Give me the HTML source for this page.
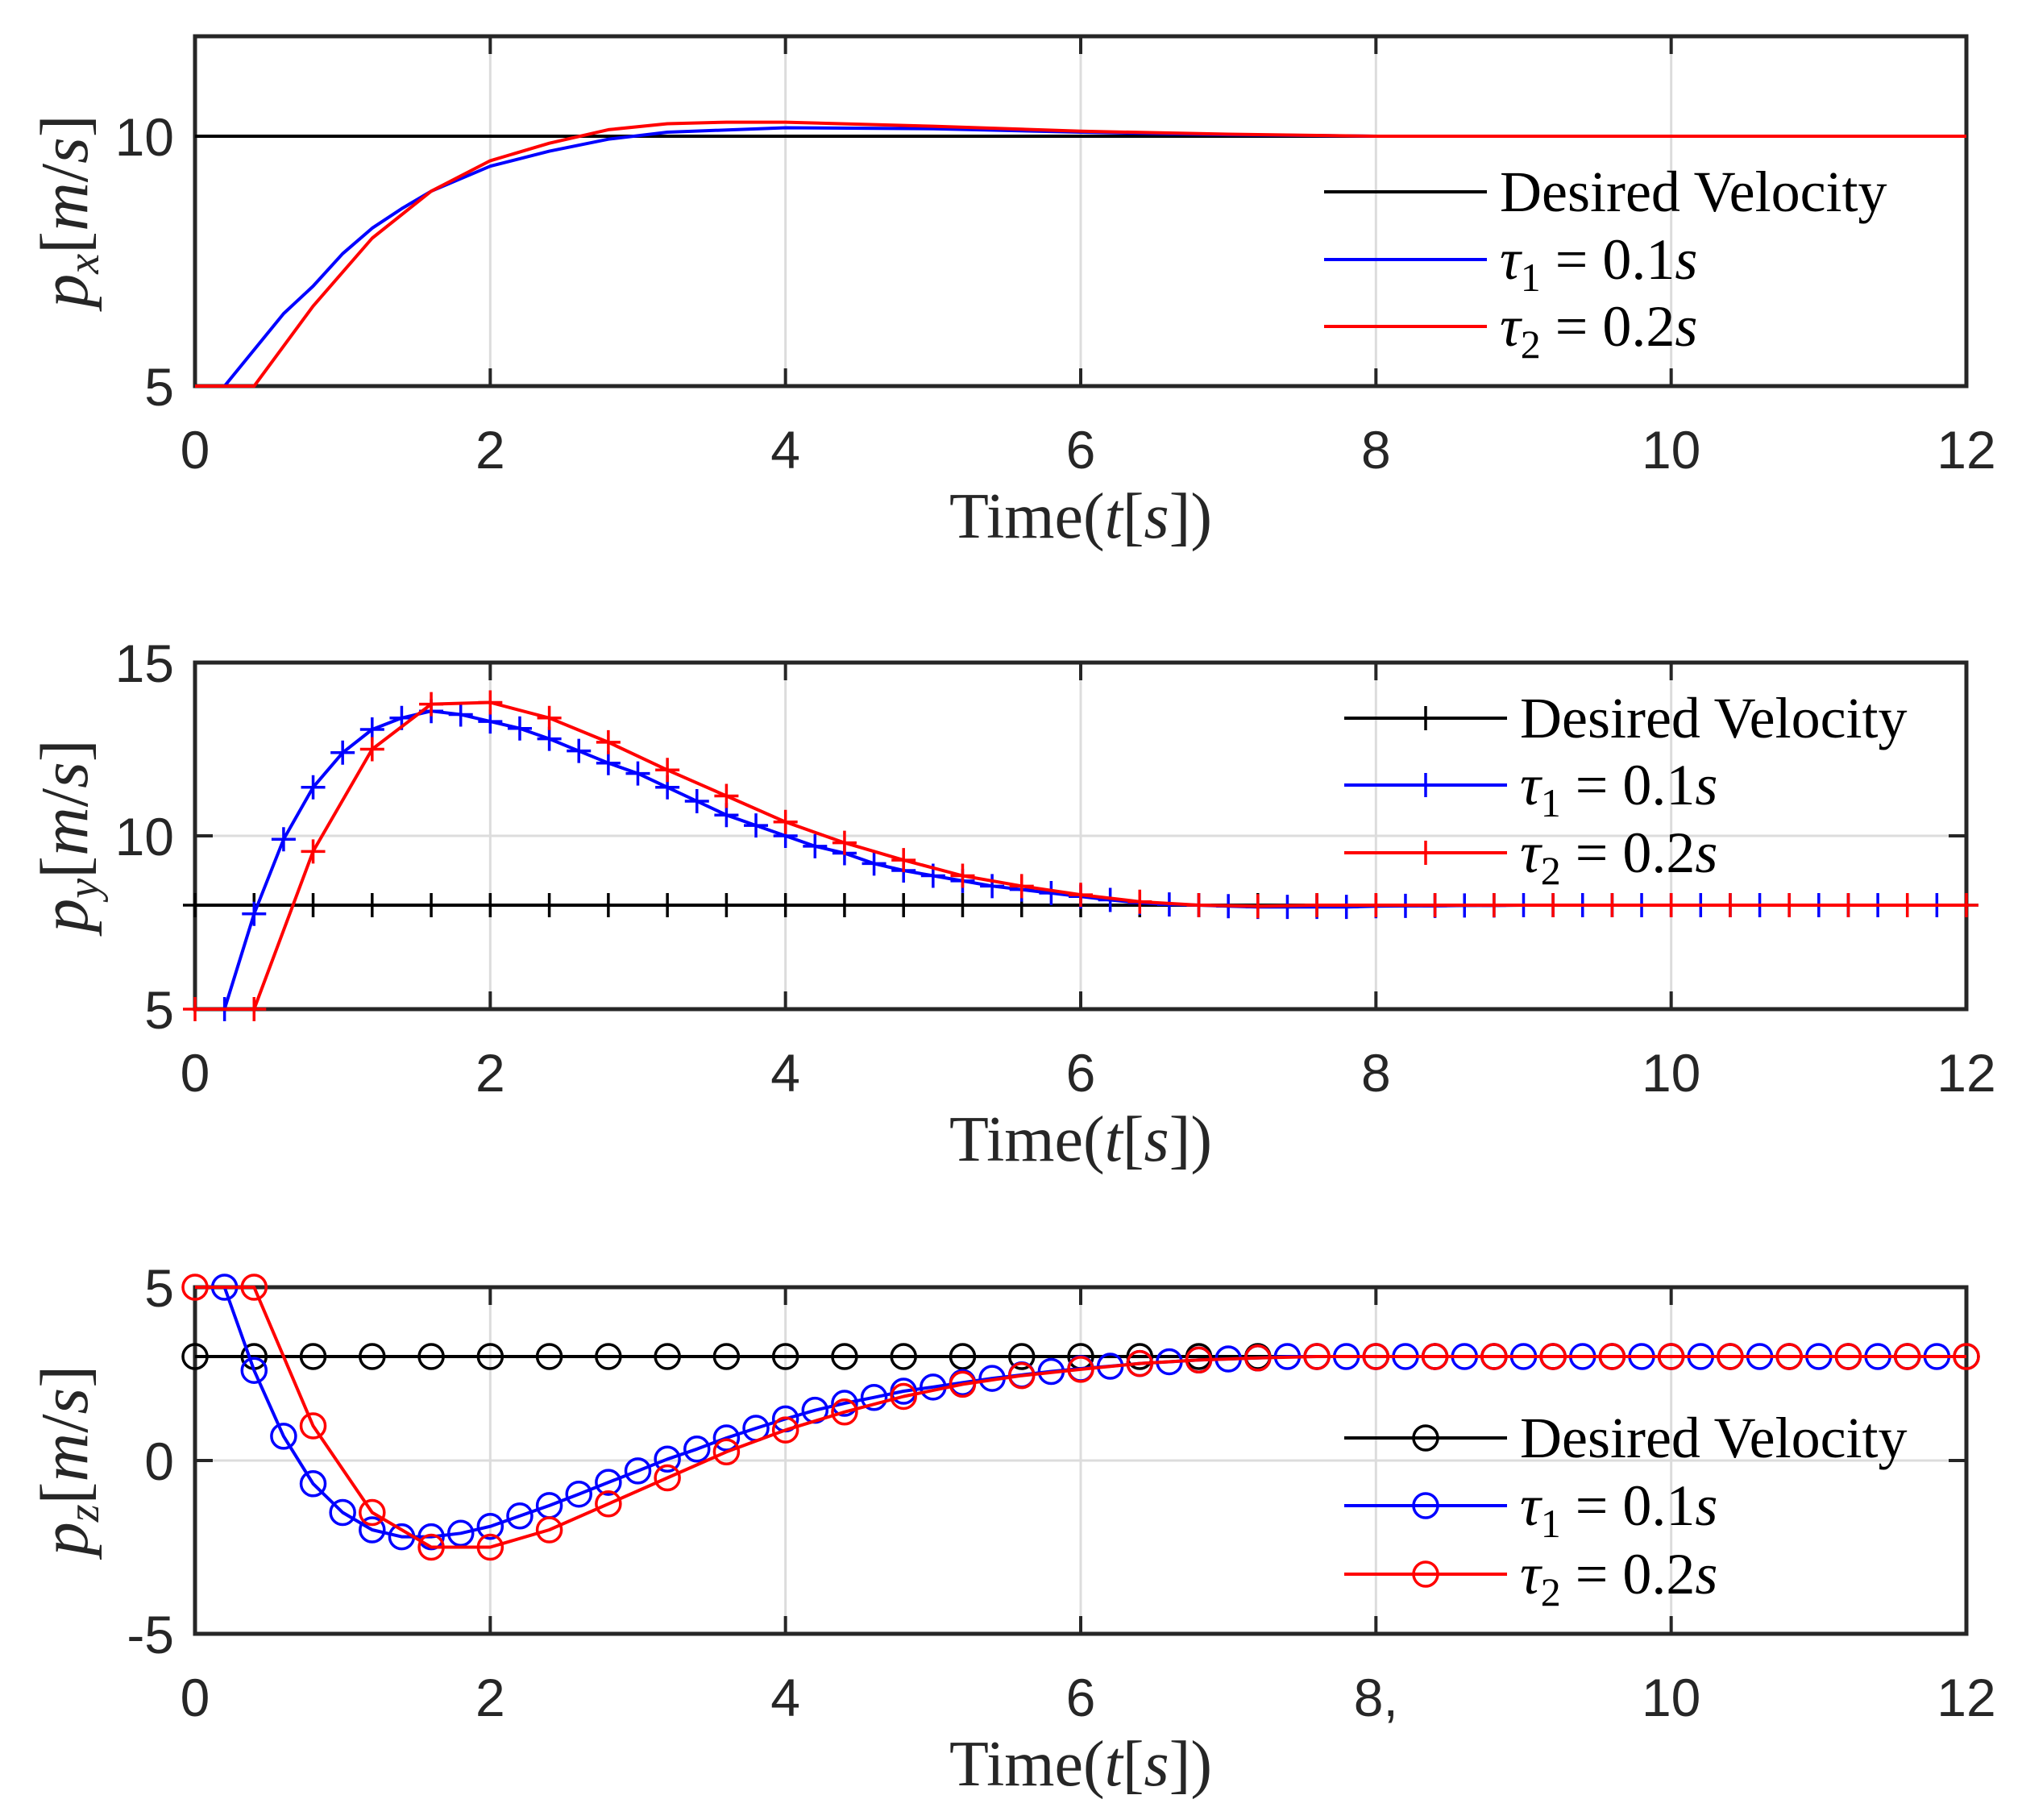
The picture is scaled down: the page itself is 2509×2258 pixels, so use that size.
<!DOCTYPE html>
<html><head><meta charset="utf-8"><style>
html,body{margin:0;padding:0;background:#fff;}
svg{display:block;}
</style></head>
<body>
<svg id="fig" xmlns="http://www.w3.org/2000/svg" width="2509" height="2258" viewBox="0 0 2509 2258"></svg>
<script>
// ---------- data: p_x ----------
const pxDesiredT = [0, 12];
const pxDesiredV = [10, 10];
const pxBlueT = [0, 0.2, 0.6, 0.8, 1.0, 1.2, 1.4, 1.6, 2.0, 2.4, 2.8, 3.2, 4.0, 5.0, 6.0, 7.0, 8.0, 12];
const pxBlueV = [5, 5, 6.45, 7.0, 7.65, 8.16, 8.55, 8.9, 9.4, 9.7, 9.94, 10.08, 10.17, 10.15, 10.08, 10.03, 10, 10];
const pxRedT = [0, 0.4, 0.8, 1.2, 1.6, 2.0, 2.4, 2.8, 3.2, 3.6, 4.0, 5.0, 6.0, 7.0, 8.0, 12];
const pxRedV = [5, 5, 6.6, 7.96, 8.9, 9.51, 9.86, 10.13, 10.25, 10.28, 10.28, 10.2, 10.1, 10.04, 10, 10];
// ---------- data: p_y ----------
const pyBlueV = [5, 7.75, 9.9, 11.4, 12.4, 13.07, 13.4, 13.6, 13.5, 13.3, 13.1, 12.8, 12.45, 12.1, 11.8, 11.4, 11.0, 10.6, 10.3, 10.0,
  9.7, 9.5, 9.2, 9.0, 8.85, 8.7, 8.55, 8.45, 8.35, 8.25, 8.15, 8.07, 8.02, 8.0, 7.97, 7.95, 7.95, 7.95, 7.95, 7.97,
  7.98, 7.98, 7.99, 7.99, 8, 8, 8, 8, 8, 8, 8, 8, 8, 8, 8, 8, 8, 8, 8];
const pyRedV = [5, 5, 9.55, 12.5, 13.8, 13.85, 13.4, 12.7, 11.9, 11.15, 10.4, 9.8, 9.3, 8.85, 8.55, 8.3, 8.1, 8.0, 7.97, 8,
  8, 8, 8, 8, 8, 8, 8, 8, 8, 8, 8];
const pyDesiredV = 8;
// ---------- data: p_z ----------
const pzBlueV = [5, 2.6, 0.7, -0.67, -1.5, -2.0, -2.2, -2.2, -2.1, -1.9, -1.6, -1.3, -0.97, -0.63, -0.3, 0.04, 0.33, 0.65, 0.93, 1.2,
  1.45, 1.65, 1.82, 2.0, 2.12, 2.25, 2.37, 2.47, 2.57, 2.65, 2.72, 2.8, 2.85, 2.9, 2.93, 2.96, 3, 3, 3, 3,
  3, 3, 3, 3, 3, 3, 3, 3, 3, 3, 3, 3, 3, 3, 3, 3, 3, 3, 3];
const pzRedV = [5, 5, 1.0, -1.5, -2.5, -2.5, -2.0, -1.25, -0.5, 0.25, 0.88, 1.4, 1.85, 2.2, 2.45, 2.63, 2.8, 2.9, 2.96, 3,
  3, 3, 3, 3, 3, 3, 3, 3, 3, 3, 3];
const pzDesiredV = 3;
// ---------- ticks ----------
const xTickLabels = ['0', '2', '4', '6', '8', '10', '12'];
const xTickLabelsBottom = ['0', '2', '4', '6', '8,', '10', '12'];
const yTicksTop = [5, 10];
const yTicksMid = [5, 10, 15];
const yTicksBot = [-5, 0, 5];

const NS = 'http://www.w3.org/2000/svg';
const svg = document.getElementById('fig');
const X0 = 242, X1 = 2440;
function mk(tag, attrs, parent) {
  const e = document.createElementNS(NS, tag);
  for (const k in attrs) e.setAttribute(k, attrs[k]);
  (parent || svg).appendChild(e);
  return e;
}
function xs(t) { return X0 + (t / 12) * (X1 - X0); }
function seq(n, step, start) { const a = []; for (let i = 0; i < n; i++) a.push(+(start + i * step).toFixed(3)); return a; }

function drawMarker(g, type, x, y, col) {
  if (type === 'o') {
    const c = mk('circle', { cx: x, cy: y, r: 15, fill: 'none', stroke: col, 'stroke-width': 3.5 }, g);
    
    
  } else if (type === '+') {
    const p = mk('path', { d: `M${x - 15},${y}H${x + 15}M${x},${y - 15}V${y + 15}`, stroke: col, 'stroke-width': 3.5, fill: 'none' }, g);
    
    
  }
}

function panel(cfg) {
  const { name, yTop, yBot, yMin, yMax, yTicks, xLabels, ylabelSub, series, legendX, legendRows, markerType } = cfg;
  const ys = v => yBot - (v - yMin) / (yMax - yMin) * (yBot - yTop);
  const g = mk('g', {});
  
  
  // grid
  for (let i = 1; i < 6; i++) {
    const l = mk('line', { x1: xs(i * 2), x2: xs(i * 2), y1: yTop, y2: yBot, stroke: '#dcdcdc', 'stroke-width': 3 }, g);
    
    
  }
  yTicks.forEach(v => {
    if (v === yMin || v === yMax) return;
    const l = mk('line', { x1: X0, x2: X1, y1: ys(v), y2: ys(v), stroke: '#dcdcdc', 'stroke-width': 3 }, g);
    
    
  });
  // axes box
  const box = mk('rect', { x: X0, y: yTop, width: X1 - X0, height: yBot - yTop, fill: 'none', stroke: '#262626', 'stroke-width': 5 }, g);
  
  
  // ticks
  for (let i = 0; i <= 6; i++) {
    const x = xs(i * 2);
    mk('line', { x1: x, x2: x, y1: yBot, y2: yBot - 22, stroke: '#262626', 'stroke-width': 4 }, g);
    mk('line', { x1: x, x2: x, y1: yTop, y2: yTop + 22, stroke: '#262626', 'stroke-width': 4 }, g);
    const tx = mk('text', { x: x, y: yBot + 102, 'text-anchor': 'middle', 'font-family': 'Liberation Sans, sans-serif', 'font-size': 66, fill: '#262626' }, g);
    
    
    tx.textContent = xLabels[i];
  }
  yTicks.forEach(v => {
    const y = ys(v);
    mk('line', { x1: X0, x2: X0 + 22, y1: y, y2: y, stroke: '#262626', 'stroke-width': 4 }, g);
    mk('line', { x1: X1, x2: X1 - 22, y1: y, y2: y, stroke: '#262626', 'stroke-width': 4 }, g);
    const tx = mk('text', { x: 216, y: y + 24, 'text-anchor': 'end', 'font-family': 'Liberation Sans, sans-serif', 'font-size': 66, fill: '#262626' }, g);
    
    
    tx.textContent = String(v);
  });
  // series (drawn over axes box)
  const cid = name + '-clip';
  const cp = mk('clipPath', { id: cid }, g);
  mk('rect', { x: X0 - 20, y: yTop - 20, width: X1 - X0 + 40, height: yBot - yTop + 40 }, cp);
  const sg = mk('g', { 'clip-path': `url(#${cid})` }, g);
  series.forEach(s => {
    const pts = s.t.map((t, i) => xs(t).toFixed(1) + ',' + ys(s.v[i]).toFixed(1)).join(' ');
    const pl = mk('polyline', { points: pts, fill: 'none', stroke: s.color, 'stroke-width': 4, 'stroke-linejoin': 'round' }, sg);
    
    
    if (markerType && s.mt) {
      s.mt.forEach((t, i) => drawMarker(sg, markerType, xs(t), ys(s.mv[i]), s.color));
    }
  });
  // x label
  const xl = mk('text', { x: (X0 + X1) / 2, y: yBot + 188, 'text-anchor': 'middle', 'font-family': 'Liberation Serif, serif', 'font-size': 80, fill: '#262626' }, g);
  
  
  xl.innerHTML = 'Time(<tspan font-style="italic">t</tspan>[<tspan font-style="italic">s</tspan>])';
  // y label
  const cy = (yTop + yBot) / 2;
  const yl = mk('text', { x: 0, y: 0, transform: `translate(108,${cy}) rotate(-90)`, 'text-anchor': 'middle', 'font-family': 'Liberation Serif, serif', 'font-size': 84, fill: '#262626' }, g);
  
  
  yl.innerHTML = `<tspan font-style="italic">p</tspan><tspan font-style="italic" font-size="56" dy="14">${ylabelSub}</tspan><tspan dy="-14">[</tspan><tspan font-style="italic">m</tspan>/<tspan font-style="italic">s</tspan>]`;
  // legend
  const labels = ['Desired Velocity', '<tspan font-style="italic">τ</tspan><tspan font-size="50" dy="15">1</tspan><tspan dy="-15"> = 0.1</tspan><tspan font-style="italic">s</tspan>',
    '<tspan font-style="italic">τ</tspan><tspan font-size="50" dy="15">2</tspan><tspan dy="-15"> = 0.2</tspan><tspan font-style="italic">s</tspan>'];
  const cols = ['#000', '#0000ff', '#ff0000'];
  const lg = mk('g', {}, g);
  
  
  legendRows.forEach((ry, i) => {
    const ln = mk('line', { x1: legendX, x2: legendX + 202, y1: ry, y2: ry, stroke: cols[i], 'stroke-width': 4 }, lg);
    
    
    if (markerType) drawMarker(lg, markerType, legendX + 101, ry, cols[i]);
    const t = mk('text', { x: legendX + 218, y: ry + 24, 'font-family': 'Liberation Serif, serif', 'font-size': 72, fill: '#000' }, lg);
    
    
    t.innerHTML = labels[i];
  });
}

panel({
  name: 'px-panel', yTop: 45, yBot: 479, yMin: 5, yMax: 12, yTicks: yTicksTop, xLabels: xTickLabels, ylabelSub: 'x',
  series: [
    { name: 'px-desired-line', color: '#000', t: pxDesiredT, v: pxDesiredV },
    { name: 'px-tau1-line', color: '#0000ff', t: pxBlueT, v: pxBlueV },
    { name: 'px-tau2-line', color: '#ff0000', t: pxRedT, v: pxRedV }
  ],
  legendX: 1643, legendRows: [238, 322, 405], markerType: null
});

const tB = seq(pyBlueV.length, 0.2, 0.2);
const tR = seq(pyRedV.length, 0.4, 0);
const tD = seq(31, 0.4, 0);
panel({
  name: 'py-panel', yTop: 822, yBot: 1252, yMin: 5, yMax: 15, yTicks: yTicksMid, xLabels: xTickLabels, ylabelSub: 'y',
  series: [
    { name: 'py-desired-line', color: '#000', t: tD, v: tD.map(() => pyDesiredV), mt: tD, mv: tD.map(() => pyDesiredV) },
    { name: 'py-tau1-line', color: '#0000ff', t: tB, v: pyBlueV, mt: tB, mv: pyBlueV },
    { name: 'py-tau2-line', color: '#ff0000', t: tR, v: pyRedV, mt: tR, mv: pyRedV }
  ],
  legendX: 1668, legendRows: [891, 974, 1058], markerType: '+'
});

const tBz = seq(pzBlueV.length, 0.2, 0.2);
const tRz = seq(pzRedV.length, 0.4, 0);
panel({
  name: 'pz-panel', yTop: 1597, yBot: 2027, yMin: -5, yMax: 5, yTicks: yTicksBot, xLabels: xTickLabelsBottom, ylabelSub: 'z',
  series: [
    { name: 'pz-desired-line', color: '#000', t: tD, v: tD.map(() => pzDesiredV), mt: tD, mv: tD.map(() => pzDesiredV) },
    { name: 'pz-tau1-line', color: '#0000ff', t: tBz, v: pzBlueV, mt: tBz, mv: pzBlueV },
    { name: 'pz-tau2-line', color: '#ff0000', t: tRz, v: pzRedV, mt: tRz, mv: pzRedV }
  ],
  legendX: 1668, legendRows: [1784, 1868, 1953], markerType: 'o'
});
</script>
</body></html>
